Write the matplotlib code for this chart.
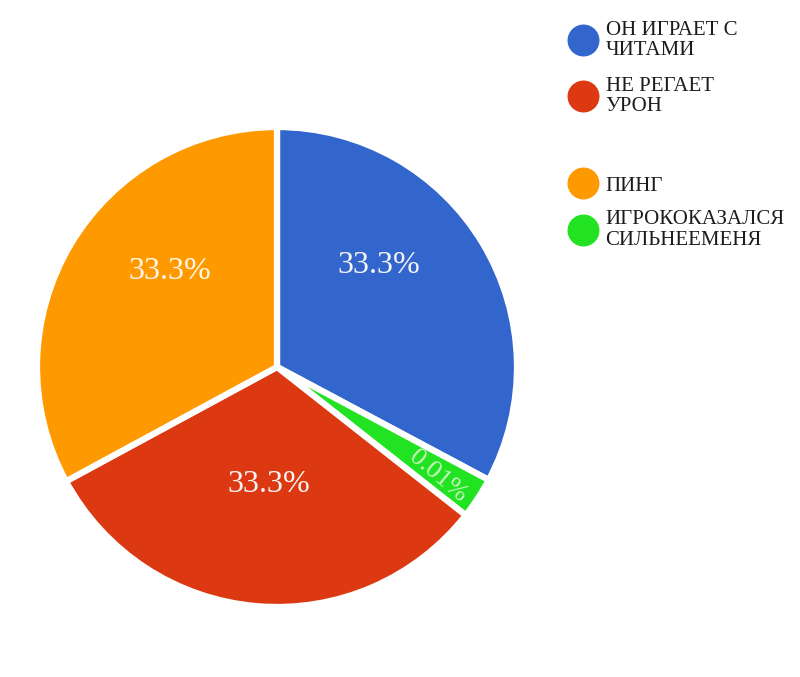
import matplotlib
matplotlib.use("Agg")
import matplotlib.pyplot as plt
import numpy as np
from matplotlib.lines import Line2D

# slices in drawing order (clockwise from 12 o'clock)
categories = ["ОН ИГРАЕТ С\nЧИТАМИ", "ИГРОКОКАЗАЛСЯ\nСИЛЬНЕЕМЕНЯ", "НЕ РЕГАЕТ\nУРОН", "ПИНГ"]
values = [32.8, 2.8, 31.5, 32.9]
pct_labels = ["33.3%", "0.01%", "33.3%", "33.3%"]
colors = ["#3366cc", "#22e322", "#dc3912", "#ff9900"]
legend_order = [0, 2, 3, 1]

# label placement (fraction of radius) and text styling
label_dist = [0.60, 0.81, 0.49, 0.60]
label_shift = [14, -1, 1, -11]   # degrees, nudge off the mid-angle
label_rot = [0, -6, 0, 0]
label_size = [23, 19, 23, 23]
label_color = ["#f4f4f4", "#c8f5c0", "#f4f4f4", "#fff8e8"]

fig = plt.figure(figsize=(8, 6.77), dpi=100)
ax = fig.add_axes([37 / 800, 70 / 677, 480 / 800, 480 / 677])

wedges, _ = ax.pie(values, colors=colors, startangle=90, counterclock=False,
                   wedgeprops=dict(edgecolor="white", linewidth=4.5))
ax.set_xlim(-1, 1)
ax.set_ylim(-1, 1)
ax.set_aspect("equal")
ax.axis("off")

for i, w in enumerate(wedges):
    mid = (w.theta1 + w.theta2) / 2 + label_shift[i]
    x = label_dist[i] * np.cos(np.radians(mid))
    y = label_dist[i] * np.sin(np.radians(mid))
    rot = mid + label_rot[i] if i == 1 else 0
    ax.text(x, y, pct_labels[i], ha="center", va="center", rotation=rot,
            rotation_mode="anchor", fontsize=label_size[i], color=label_color[i],
            family="Liberation Serif")

def handle(c):
    return Line2D([], [], linestyle="none", marker="o", markersize=22,
                  markerfacecolor=c, markeredgecolor=c)

legend_kw = dict(frameon=False, prop={"family": "Liberation Serif", "size": 15},
                 handlelength=1.4, handletextpad=0.4, borderpad=0, borderaxespad=0,
                 loc="upper left", labelcolor="#1c1c1c")

top = legend_order[:2]
bottom = legend_order[2:]
leg1 = fig.legend([handle(colors[i]) for i in top], [categories[i] for i in top],
                  bbox_to_anchor=(568 / 800, 1 - 21 / 677), labelspacing=0.8, **legend_kw)
leg2 = fig.legend([handle(colors[i]) for i in bottom], [categories[i] for i in bottom],
                  bbox_to_anchor=(568 / 800, 1 - 176 / 677), labelspacing=0.7, **legend_kw)
for leg in (leg1, leg2):
    for t in leg.get_texts():
        t.set_linespacing(1.1)

fig.savefig("out.png", dpi=100, facecolor="white")
